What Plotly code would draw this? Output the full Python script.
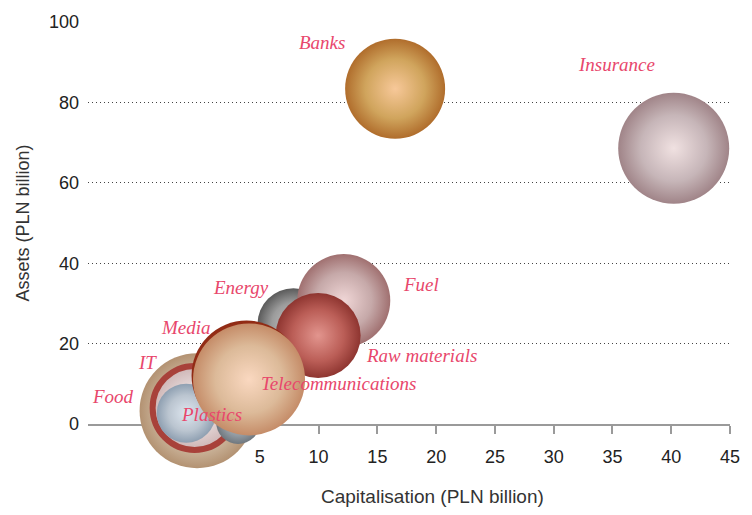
import plotly.graph_objects as go

# ---- data (drawing order: back to front) ----
sectors = ["Food", "IT", "", "Plastics", "Energy", "Fuel", "Raw materials",
           "Media", "Telecommunications", "Banks", "Insurance"]
capitalisation = [-0.34, -0.55, 3.15, -1.26, 7.86, 12.14, 9.96, 3.87, 4.08, 16.51, 40.21]
assets = [3.3, 4.0, 0.5, 2.7, 24.8, 30.7, 22.0, 12.05, 11.1, 83.4, 68.6]
bubble = [115, 84, 44, 59, 72, 93, 85, 110, 112, 100, 111]

x_ticks = [5, 10, 15, 20, 25, 30, 35, 40, 45]
y_ticks = [0, 20, 40, 60, 80, 100]

# ---- styles: highlight / body / edge colours per bubble ----
hi_col = ["#ecdccb", "#f4ecec", "#aab3bb", "#dde6ef", "#c6c6c6", "#f0d6d6",
          "#e2958e", "#d05c36", "#fad8c0", "#f7c899", "#f0e1e1"]
body_col = ["#dcc2a6", "#e6d6d6", "#939ca4", "#c3d0de", "#9c9c9c", "#daaaaa",
            "#c95e57", "#b8421f", "#f2bd99", "#eea45c", "#dec1c3"]
edge_col = ["#b39272", "#cdb4b4", "#6f777e", "#8e9fb1", "#5a5a5a", "#a07070",
            "#8e3530", "#8f2a14", "#c58c68", "#b06d2c", "#a08488"]
ring_col = [None, "#a8413a", None, None, None, None, None, None, None, None, None]
ring_w = [0, 6, 0, 0, 0, 0, 0, 0, 0, 0, 0]
# label offsets from bubble centre (pixels)
lab_dx = [-84, -47, 0, 25, -52, 77, 103, -61, 90, -73, -57]
lab_dy = [-14, -45, 0, 1, -37, -16, 20, -48, 4, -46, -84]
label_color = "#e8476c"
inner_frac = 0.6


def hex2rgb(h):
    h = h.lstrip("#")
    return [int(h[i:i + 2], 16) for i in (0, 2, 4)]


def rgb2hex(c):
    return "#" + "".join(f"{max(0, min(255, int(round(v)))):02x}" for v in c)


def lerp(a, b, t):
    return [a[i] + (b[i] - a[i]) * t for i in range(3)]


fig = go.Figure()
for i in range(len(sectors)):
    H, M, E = hex2rgb(hi_col[i]), hex2rgb(body_col[i]), hex2rgb(edge_col[i])
    f = inner_frac
    base_center = [max(0, min(255, (M[k] - f * E[k]) / (1 - f))) for k in range(3)]
    mid = lerp(base_center, E, f)
    fig.add_trace(go.Scatter(
        x=[capitalisation[i]], y=[assets[i]], mode="markers",
        marker=dict(size=[bubble[i]], sizemode="diameter", sizeref=1,
                    color=edge_col[i], opacity=1,
                    gradient=dict(type="radial", color=rgb2hex(base_center)),
                    line=dict(color=ring_col[i] or "rgba(0,0,0,0)", width=ring_w[i])),
        cliponaxis=False, hoverinfo="skip", showlegend=False))
    fig.add_trace(go.Scatter(
        x=[capitalisation[i]], y=[assets[i]], mode="markers",
        marker=dict(size=[bubble[i] * f - ring_w[i]], sizemode="diameter", sizeref=1,
                    color=rgb2hex(mid), opacity=1,
                    gradient=dict(type="radial", color=hi_col[i]),
                    line=dict(width=0)),
        cliponaxis=False, hoverinfo="skip", showlegend=False))

for name, xv, yv, dx, dy in zip(sectors, capitalisation, assets, lab_dx, lab_dy):
    if not name:
        continue
    fig.add_annotation(x=xv, y=yv, xref="x", yref="y", text=name, showarrow=False,
                       xshift=dx, yshift=-dy,
                       font=dict(family="Liberation Serif", size=19, color=label_color,
                                 style="italic"))

fig.add_annotation(x=0.537, y=-0.181, xref="paper", yref="paper",
                   text="Capitalisation (PLN billion)", showarrow=False,
                   xanchor="center", yanchor="middle",
                   font=dict(family="Liberation Sans, Arial, sans-serif", size=19, color="#333"))

fig.update_layout(
    width=752, height=515,
    margin=dict(l=88, r=14, t=20, b=91),
    paper_bgcolor="white", plot_bgcolor="white",
    font=dict(family="Liberation Sans, Arial, sans-serif", size=18, color="#222"),
    xaxis=dict(range=[-9.62, 45], tickvals=x_ticks, showgrid=False, zeroline=False,
               showline=True, linecolor="#9a9a9a", linewidth=1.5,
               ticks="outside", ticklen=8, tickcolor="#9a9a9a", tickwidth=1.5,
               ticklabelstandoff=8, layer="below traces"),
    yaxis=dict(range=[0, 100], tickvals=y_ticks, showgrid=True, zeroline=False,
               gridcolor="#444", gridwidth=1, griddash="1px,3px",
               showline=False, ticks="", ticklabelstandoff=8,
               title=dict(text="Assets (PLN billion)", standoff=14,
                          font=dict(size=18, color="#333"))),
)

fig.write_html("out.html")
